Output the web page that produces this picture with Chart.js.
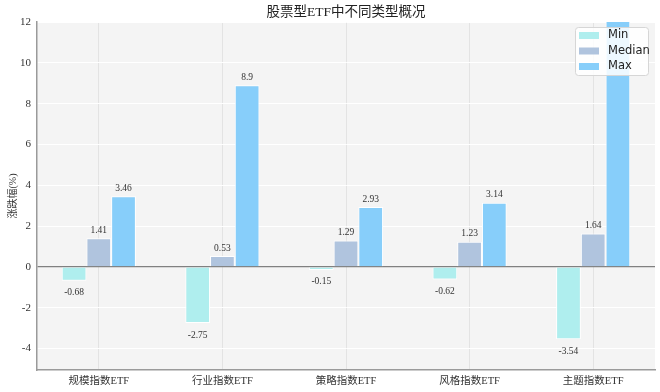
<!DOCTYPE html>
<html>
<head>
<meta charset="utf-8">
<script src="https://cdn.jsdelivr.net/npm/chart.js@4/dist/chart.umd.min.js"></script>
<style>
    html, body { margin: 0; padding: 0; background: #fff; }
    #box { width: 660px; height: 392px; }
</style>
</head>
<body>
<div id="box"><canvas id="myChart"></canvas></div>
<script>
const categories = ['规模指数ETF', '行业指数ETF', '策略指数ETF', '风格指数ETF', '主题指数ETF'];
const minValues = [-0.68, -2.75, -0.15, -0.62, -3.54];
const medianValues = [1.41, 0.53, 1.29, 1.23, 1.64];
const maxValues = [3.46, 8.9, 2.93, 3.14, 13.9];
const yTicks = [-4, -2, 0, 2, 4, 6, 8, 10, 12];

const serif = "'Liberation Serif', 'DejaVu Serif', 'Noto Sans CJK SC', serif";

// plot background, title, value labels, legend
const decoPlugin = {
    id: 'deco',
    beforeDraw(chart) {
        const { ctx, chartArea: a } = chart;
        ctx.save();
        ctx.fillStyle = '#f4f4f4';
        ctx.fillRect(a.left, a.top, a.right - a.left, a.bottom - a.top);
        ctx.restore();
    },
    afterDatasetsDraw(chart) {
        const { ctx, chartArea: a } = chart;
        ctx.save();
        ctx.font = "9.5px " + serif;
        ctx.fillStyle = '#333';
        ctx.textAlign = 'center';
        ctx.textBaseline = 'middle';
        chart.data.datasets.forEach((ds, di) => {
            chart.getDatasetMeta(di).data.forEach((bar, i) => {
                const v = ds.data[i];
                const y = v >= 0 ? bar.y - 8 : bar.y + 12;
                if (y < a.top) return;
                ctx.fillText(String(v), bar.x, y);
            });
        });
        ctx.restore();
    },
    afterDraw(chart) {
        const { ctx, chartArea: a } = chart;
        ctx.save();
        ctx.font = "13.5px " + serif;
        ctx.fillStyle = '#222';
        ctx.textAlign = 'center';
        ctx.textBaseline = 'middle';
        ctx.fillText('股票型ETF中不同类型概况', (a.left + a.right) / 2, 12);

        // legend box
        const lx = 575, ly = 27, lw = 73, lh = 48;
        ctx.fillStyle = 'rgba(255,255,255,0.85)';
        ctx.strokeStyle = '#d6d6d6';
        ctx.lineWidth = 1;
        ctx.beginPath();
        ctx.roundRect(lx + 0.5, ly + 0.5, lw, lh, 3);
        ctx.fill();
        ctx.stroke();
        ctx.font = "11.5px 'DejaVu Sans', sans-serif";
        ctx.textAlign = 'left';
        chart.data.datasets.forEach((ds, i) => {
            const cy = ly + 8 + i * 15.5;
            ctx.fillStyle = ds.backgroundColor;
            ctx.fillRect(lx + 4, cy - 3, 20, 7);
            ctx.fillStyle = '#222';
            ctx.fillText(ds.label, lx + 33, cy + 0.5);
        });
        ctx.restore();
    }
};

new Chart(document.getElementById('myChart'), {
    type: 'bar',
    data: {
        labels: categories,
        datasets: [
            { label: 'Min', data: minValues, backgroundColor: '#afeeee', borderColor: '#ffffff', borderWidth: 1, clip: 0 },
            { label: 'Median', data: medianValues, backgroundColor: '#b0c4de', borderColor: '#ffffff', borderWidth: 1, clip: 0 },
            { label: 'Max', data: maxValues, backgroundColor: '#87cefa', borderColor: '#ffffff', borderWidth: 1, clip: 0 }
        ]
    },
    options: {
        responsive: true,
        maintainAspectRatio: false,
        animation: false,
        layout: { padding: { top: 22, right: 5, left: 0, bottom: 0 } },
        datasets: { bar: { categoryPercentage: 0.6, barPercentage: 1.0 } },
        plugins: { legend: { display: false }, tooltip: { enabled: false } },
        scales: {
            x: {
                grid: { offset: false, color: '#e3e3e3', drawTicks: false },
                border: { color: '#9a9a9a', width: 1.5 },
                ticks: { font: { family: serif, size: 10.5 }, color: '#333', padding: 5 },
                afterFit(scale) { scale.height = 22; }
            },
            y: {
                min: -5.05,
                max: 12,
                afterBuildTicks(scale) { scale.ticks = yTicks.map(v => ({ value: v })); },
                grid: {
                    drawTicks: false,
                    color: ctx => ctx.tick && ctx.tick.value === 0 ? '#808080' : '#ffffff',
                    lineWidth: ctx => ctx.tick && ctx.tick.value === 0 ? 1.2 : 1
                },
                border: { color: '#9a9a9a', width: 1.5 },
                ticks: { font: { family: serif, size: 11 }, color: '#333', padding: 6 },
                title: { display: true, text: '涨跌幅(%)', font: { family: serif, size: 10 }, color: '#333', padding: { top: 7, bottom: 0 } },
                afterFit(scale) { scale.width = 37; }
            }
        }
    },
    plugins: [decoPlugin]
});
</script>
</body>
</html>
